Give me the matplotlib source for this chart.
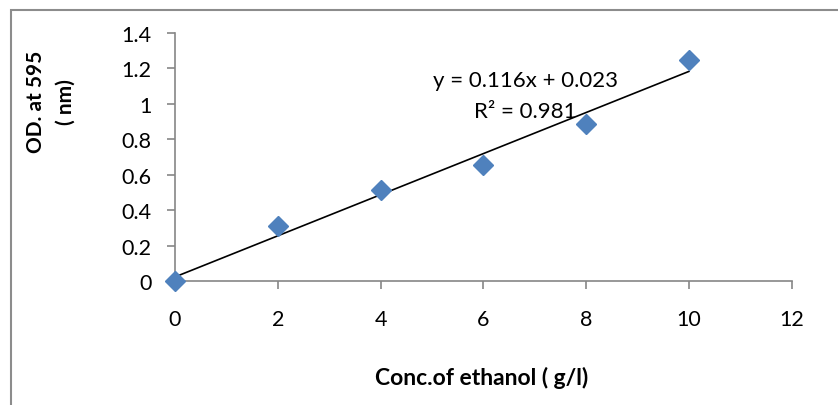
import matplotlib.pyplot as plt
from matplotlib.patches import Rectangle

plt.rcParams['font.family'] = ['Lato', 'DejaVu Sans']

# ethanol concentration (g/l) vs optical density
conc = [0, 2, 4, 6, 8, 10]
od = [0.0, 0.31, 0.515, 0.655, 0.885, 1.25]
x_ticks = [0, 2, 4, 6, 8, 10, 12]
y_ticks = [0, 0.2, 0.4, 0.6, 0.8, 1.0, 1.2, 1.4]
y_tick_labels = ['0', '0.2', '0.4', '0.6', '0.8', '1', '1.2', '1.4']

# linear trend line parameters
slope = 0.116
intercept = 0.023
r2 = 0.981

fig = plt.figure(figsize=(8.38, 4.06), dpi=100)
ax = fig.add_axes([0.2088, 0.3054, 0.7359, 0.6109])

# chart border (runs off the right and bottom edges)
fig.patches.append(Rectangle((11 / 838, -0.05), 1.2, 1 - 10.5 / 406 + 0.05,
                             transform=fig.transFigure, fill=False,
                             edgecolor='#8c8c8c', lw=1.5))

ax.plot([0, 10], [intercept, slope * 10 + intercept], color='black', lw=1.2, zorder=2)
ax.plot(conc, od, linestyle='none', marker='D', markersize=10,
        color='#4f81bd', zorder=3, clip_on=False)

ax.set_xlim(0, 12)
ax.set_ylim(0, 1.4)
ax.set_xticks(x_ticks)
ax.set_yticks(y_ticks)
ax.set_yticklabels(y_tick_labels)
for s in ['top', 'right']:
    ax.spines[s].set_visible(False)
for s in ['left', 'bottom']:
    ax.spines[s].set_color('#868686')
    ax.spines[s].set_linewidth(1.2)
ax.tick_params(axis='both', colors='#868686', length=6, width=1.2, labelcolor='black',
               labelsize=15.5)
ax.tick_params(axis='x', pad=14)
ax.tick_params(axis='y', pad=11)

ax.text(0.5686, 0.811, 'y = %.3fx + %.3f' % (slope, intercept), transform=ax.transAxes,
        ha='center', va='center', fontsize=16)
ax.text(0.5686, 0.686, 'R² = %.3f' % r2, transform=ax.transAxes,
        ha='center', va='center', fontsize=16)

fig.text(482 / 838, 1 - 378 / 406, 'Conc.of ethanol ( g/l)', ha='center', va='center',
         fontsize=16.5, fontweight='bold')
fig.text(51 / 838, 1 - 102 / 406, 'OD. at 595\n( nm)', ha='center', va='center',
         rotation=90, fontsize=15, fontweight='bold', linespacing=1.6)

fig.savefig('out.png', dpi=100)
